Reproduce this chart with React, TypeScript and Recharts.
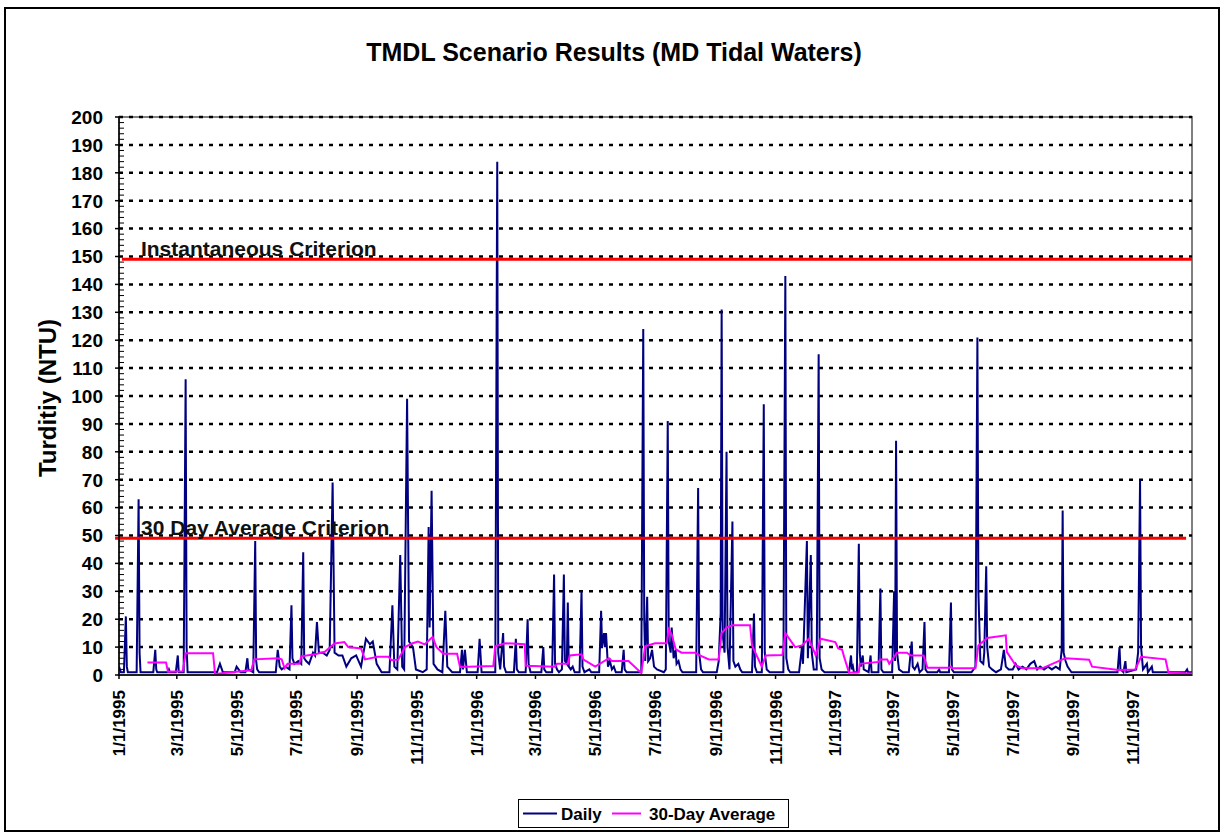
import React from "react";
import { LineChart, Line, XAxis, YAxis, CartesianGrid, ReferenceLine } from "recharts";

const FONT = "'Liberation Sans', Arial, Helvetica, sans-serif";

// x values are days counted from 1/1/1995
const tickDays = [0, 59, 120, 181, 243, 304, 365, 425, 486, 547, 609, 670, 731, 790, 851, 912, 974, 1035];
const tickLabels = [
  "1/1/1995", "3/1/1995", "5/1/1995", "7/1/1995", "9/1/1995", "11/1/1995",
  "1/1/1996", "3/1/1996", "5/1/1996", "7/1/1996", "9/1/1996", "11/1/1996",
  "1/1/1997", "3/1/1997", "5/1/1997", "7/1/1997", "9/1/1997", "11/1/1997",
];

const yMajor = [0, 10, 20, 30, 40, 50, 60, 70, 80, 90, 100, 110, 120, 130, 140, 150, 160, 170, 180, 190, 200];
const yTicks = Array.from({ length: 101 }, (_, i) => i * 2);

const instantCriterion = 149;
const avgCriterion = 49;

// daily turbidity, [day, NTU]
const daily1995: [number, number][] = [
  [0, 3], [2, 1], [5, 1], [7, 21], [8, 3], [9, 1], [18, 1], [20, 63], [21, 8], [22, 1],
  [35, 1], [37, 9], [38, 2], [39, 1], [50, 1], [51, 2], [52, 1], [58, 1], [60, 7], [61, 1],
  [66, 1], [68, 106], [69, 10], [70, 1], [100, 1], [103, 4], [105, 2], [106, 1], [118, 1],
  [120, 3], [122, 2], [124, 1], [129, 1], [131, 6], [132, 2], [137, 1], [139, 48], [140, 5],
  [141, 2], [143, 1], [160, 1], [162, 9], [164, 3], [166, 2], [170, 3], [174, 2], [176, 25],
  [177, 6], [179, 4], [183, 5], [186, 4], [188, 44], [189, 6], [191, 5], [194, 4], [198, 8],
  [200, 7], [202, 19], [204, 8], [208, 8], [212, 7], [215, 9], [218, 69], [220, 8], [224, 7],
  [228, 7], [232, 3], [237, 6], [242, 7], [247, 3], [252, 13], [256, 11], [259, 12], [263, 4],
  [268, 1], [276, 1], [279, 25], [281, 3], [284, 2], [287, 43], [289, 3], [291, 2], [294, 99],
  [296, 12], [300, 10], [303, 2], [310, 1], [314, 2], [316, 53], [317, 17], [319, 66], [321, 4],
  [325, 2], [330, 1], [333, 23], [335, 3], [340, 1], [348, 1], [350, 9], [351, 2], [353, 9],
  [355, 1], [365, 1],
];

const daily1996: [number, number][] = [
  [366, 1], [368, 13], [370, 1], [384, 1], [386, 184], [387, 8], [389, 2], [392, 15], [393, 3],
  [395, 1], [403, 1], [405, 13], [406, 2], [408, 1], [415, 1], [417, 20], [418, 4], [420, 1],
  [431, 1], [433, 10], [434, 2], [436, 1], [442, 1], [444, 36], [445, 4], [447, 2], [449, 1],
  [452, 2], [454, 36], [455, 5], [457, 4], [458, 26], [459, 3], [461, 2], [463, 3], [465, 1],
  [470, 1], [472, 30], [473, 3], [475, 1], [480, 2], [482, 1], [490, 1], [492, 23], [493, 10],
  [495, 15], [496, 10], [497, 15], [499, 3], [501, 5], [503, 2], [505, 3], [507, 1], [513, 1],
  [515, 9], [516, 2], [518, 1], [528, 1], [533, 1], [535, 124], [536, 20], [537, 5], [539, 28],
  [540, 5], [542, 6], [544, 9], [546, 3], [549, 2], [556, 1], [558, 2], [560, 91], [561, 12],
  [563, 8], [564, 17], [566, 6], [568, 9], [569, 4], [571, 5], [573, 2], [575, 1], [589, 1],
  [591, 67], [592, 8], [594, 2], [596, 1], [610, 1], [612, 5], [614, 22], [615, 131], [616, 15],
  [618, 8], [620, 80], [621, 10], [623, 2], [626, 55], [627, 5], [629, 3], [632, 4], [634, 2],
  [636, 1], [646, 1], [648, 22], [649, 3], [651, 1], [656, 1], [658, 97], [659, 8], [661, 2],
  [664, 1], [678, 1], [680, 143], [681, 6], [683, 2], [685, 1], [694, 1], [697, 10], [698, 4],
  [702, 48], [703, 6], [706, 43], [707, 8], [709, 2], [712, 2], [714, 115], [715, 6], [717, 2],
  [720, 1], [731, 1],
];

const daily1997: [number, number][] = [
  [745, 1], [747, 7], [748, 2], [749, 3], [750, 1], [753, 1], [755, 47], [756, 8], [757, 3],
  [759, 7], [760, 2], [765, 1], [767, 7], [768, 1], [775, 1], [777, 31], [778, 2], [780, 1],
  [789, 1], [791, 30], [792, 5], [793, 84], [794, 8], [796, 2], [800, 1], [806, 1], [809, 12],
  [810, 3], [812, 2], [815, 4], [817, 1], [820, 2], [822, 19], [823, 2], [825, 1], [835, 1],
  [837, 2], [838, 1], [847, 1], [849, 26], [850, 2], [852, 1], [870, 1], [874, 3], [876, 121],
  [877, 30], [879, 5], [882, 4], [883, 8], [885, 39], [886, 10], [888, 3], [891, 2], [895, 1],
  [900, 2], [903, 9], [905, 3], [908, 2], [912, 2], [915, 4], [918, 2], [922, 3], [926, 2],
  [930, 4], [934, 5], [937, 2], [940, 3], [944, 2], [948, 3], [952, 2], [956, 3], [960, 2],
  [962, 9], [963, 59], [964, 8], [966, 5], [968, 3], [972, 1], [985, 1], [990, 1], [1000, 1],
  [1015, 1], [1019, 1], [1021, 10], [1022, 2], [1025, 1], [1027, 5], [1028, 1], [1038, 2],
  [1040, 8], [1042, 70], [1043, 10], [1045, 2], [1049, 4], [1050, 1], [1054, 3], [1055, 1],
  [1070, 1], [1088, 1], [1090, 2], [1091, 1], [1095, 1],
];

// 30-day average, [day, NTU]
const avg1995: [number, number][] = [
  [29, 4.5], [48, 4.5], [50, 1.2], [65, 1.3], [68, 7.8], [96, 7.8], [98, 0.4], [120, 1.2],
  [135, 1.7], [138, 5.6], [162, 6], [166, 5.6], [169, 2.4], [172, 4], [184, 4], [186, 6.7],
  [200, 7.4], [210, 8.3], [220, 11.3], [230, 11.8], [234, 10], [247, 9.5], [251, 5.6],
  [264, 6.5], [275, 6.5], [278, 5.3], [285, 5.5], [292, 10], [299, 11.3], [305, 12], [312, 11],
  [320, 13.6], [324, 10], [331, 7.6], [345, 7.6], [348, 2.9],
];

const avg1996: [number, number][] = [
  [382, 3.2], [384, 10.3], [394, 11.4], [414, 11], [415, 3.3], [445, 3], [447, 4], [458, 4],
  [460, 7], [472, 7.4], [474, 5.5], [486, 3], [500, 6], [503, 5], [520, 5], [533, 0.7],
  [537, 10.3], [547, 11.4], [559, 11.4], [561, 16.4], [564, 14.6], [568, 9.3], [574, 8],
  [588, 8], [591, 7.3], [602, 5.6], [612, 5.6], [615, 15], [620, 17], [626, 17.8], [644, 17.8],
  [646, 10.6], [656, 3], [660, 7], [677, 7.2], [680, 15], [690, 10], [697, 10.6], [704, 13],
  [711, 7], [716, 13], [731, 11.8],
];

const avg1997: [number, number][] = [
  [734, 9.5], [738, 9], [740, 6.5], [745, 0.8], [755, 1], [756, 4], [775, 4.7], [777, 5.6],
  [784, 5.6], [786, 4], [794, 8], [804, 8], [808, 7], [821, 7], [825, 2.6], [847, 2.6],
  [849, 3], [850, 2.4], [874, 2.4], [877, 10.6], [886, 13.3], [905, 14.2], [906, 8.3],
  [915, 3.5], [922, 2.4], [942, 2.4], [963, 5.6], [966, 6], [990, 5.5], [993, 3], [1020, 1.8],
  [1037, 2], [1043, 6.5], [1068, 5.6], [1071, 0.8], [1095, 0.5],
];

const dailyData = [...daily1995, ...daily1996, ...daily1997].map(([d, v]) => ({ d, v }));
const avgData = [...avg1995, ...avg1996, ...avg1997].map(([d, v]) => ({ d, v }));

const YTick = (props: any) => {
  const { x, y, payload } = props;
  const major = payload.value % 10 === 0;
  return (
    <g>
      {major ? (
        <line x1={x - 4} x2={x} y1={y} y2={y} stroke="#000" strokeWidth={1.5} />
      ) : (
        <line x1={x} x2={x + 5} y1={y} y2={y} stroke="#000" strokeWidth={1} />
      )}
      {major && (
        <text x={x - 16} y={y} dy="0.36em" textAnchor="end" fontFamily={FONT} fontWeight="bold" fontSize={19} fill="#000">
          {payload.value}
        </text>
      )}
    </g>
  );
};

const XTick = (props: any) => {
  const { x, y, payload } = props;
  const label = tickLabels[tickDays.indexOf(payload.value)];
  return (
    <g>
      <line x1={x} x2={x} y1={y} y2={y + 4} stroke="#000" strokeWidth={1.5} />
      <text
        transform={`translate(${x + 6},${y + 15}) rotate(-90)`}
        textAnchor="end"
        fontFamily={FONT}
        fontWeight="bold"
        fontSize={17}
        fill="#000"
      >
        {label}
      </text>
    </g>
  );
};

const CriterionLabel = (props: any) => {
  const { viewBox, text, dx } = props;
  return (
    <text x={viewBox.x + dx} y={viewBox.y - 3} fontFamily={FONT} fontWeight="bold" fontSize={21} fill="#111">
      {text}
    </text>
  );
};

export default function App() {
  return (
    <div style={{ position: "absolute", left: 0, top: 0, width: 1225, height: 839, background: "#fff" }}>
      <svg width={1225} height={839} style={{ position: "absolute", left: 0, top: 0 }}>
        <rect x={5} y={8} width={1214} height={823} fill="#fff" stroke="#000" strokeWidth={2} />
        <rect x={119} y={117} width={1073} height={558} fill="none" stroke="#808080" strokeWidth={2} />
        <text x={614} y={61} textAnchor="middle" fontFamily={FONT} fontWeight="bold" fontSize={25} fill="#000">
          TMDL Scenario Results (MD Tidal Waters)
        </text>
        <text
          transform="translate(56,398) rotate(-90)"
          textAnchor="middle"
          fontFamily={FONT}
          fontWeight="bold"
          fontSize={24}
          fill="#000"
        >
          Turditiy (NTU)
        </text>
        <rect x={518.5} y={799.5} width={270} height={28} fill="#fff" stroke="#000" strokeWidth={1} />
        <line x1={523} x2={557} y1={813.5} y2={813.5} stroke="#000080" strokeWidth={2} />
        <text x={561} y={820} fontFamily={FONT} fontWeight="bold" fontSize={17} fill="#000">Daily</text>
        <line x1={612} x2={641} y1={813.5} y2={813.5} stroke="#FF00FF" strokeWidth={2} />
        <text x={649} y={820} fontFamily={FONT} fontWeight="bold" fontSize={17} fill="#000">30-Day Average</text>
      </svg>
      <div style={{ position: "absolute", left: 0, top: 0 }}>
        <LineChart width={1225} height={839} margin={{ top: 117, right: 33, bottom: 163, left: 118 }}>
          <CartesianGrid
            vertical={false}
            horizontalValues={yMajor.filter((v) => v > 0)}
            stroke="#000"
            strokeDasharray="4 6"
            strokeWidth={2.5}
          />
          <XAxis
            dataKey="d"
            type="number"
            domain={[0, 1095]}
            ticks={tickDays}
            interval={0}
            height={1}
            tickSize={0}
            tickMargin={0}
            tickLine={false}
            tick={<XTick />}
            axisLine={{ stroke: "#000", strokeWidth: 1.5 }}
            allowDataOverflow
          />
          <YAxis
            type="number"
            domain={[0, 200]}
            ticks={yTicks}
            interval={0}
            width={1}
            tickSize={0}
            tickMargin={0}
            tickLine={false}
            tick={<YTick />}
            axisLine={{ stroke: "#000", strokeWidth: 1.5 }}
          />
          <Line
            data={dailyData}
            dataKey="v"
            type="linear"
            stroke="#000080"
            strokeWidth={2}
            dot={false}
            activeDot={false}
            isAnimationActive={false}
          />
          <Line
            data={avgData}
            dataKey="v"
            type="linear"
            stroke="#FF00FF"
            strokeWidth={2}
            dot={false}
            activeDot={false}
            isAnimationActive={false}
          />
          <ReferenceLine
            segment={[{ x: 3, y: instantCriterion }, { x: 1095, y: instantCriterion }]}
            stroke="#FF0000"
            strokeWidth={3}
            ifOverflow="visible"
            label={<CriterionLabel text="Instantaneous Criterion" dx={19} />}
          />
          <ReferenceLine
            segment={[{ x: -4, y: avgCriterion }, { x: 1089, y: avgCriterion }]}
            stroke="#FF0000"
            strokeWidth={3}
            ifOverflow="visible"
            label={<CriterionLabel text="30 Day Average Criterion" dx={26} />}
          />
        </LineChart>
      </div>
    </div>
  );
}
